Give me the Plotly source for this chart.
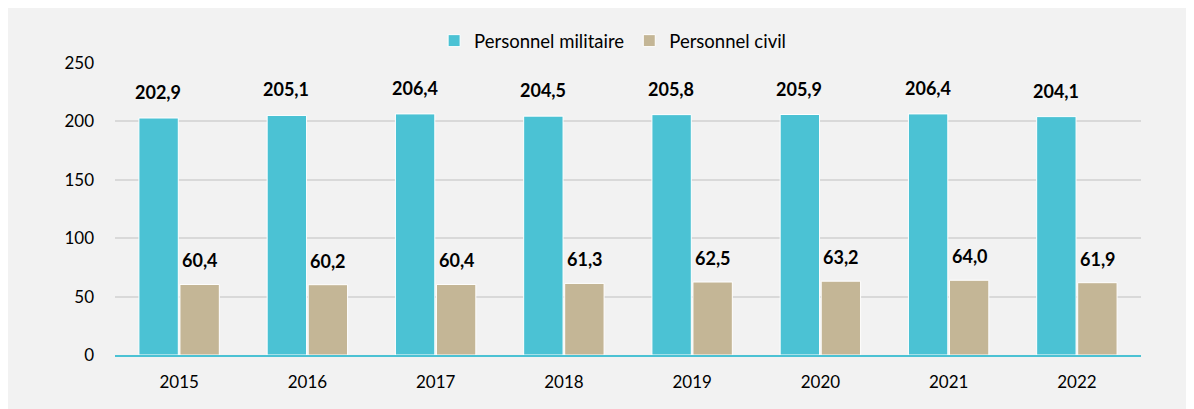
import plotly.graph_objects as go

years = ["2015", "2016", "2017", "2018", "2019", "2020", "2021", "2022"]
militaire = [202.9, 205.1, 206.4, 204.5, 205.8, 205.9, 206.4, 204.1]
civil = [60.4, 60.2, 60.4, 61.3, 62.5, 63.2, 64.0, 61.9]
y_ticks = [0, 50, 100, 150, 200, 250]

C_MIL = "#4BC2D4"
C_CIV = "#C4B696"
BG = "#F2F2F2"
FONT = "Lato, 'Open Sans', sans-serif"

def fr(v):
    return f"{v:.1f}".replace(".", ",")

fig = go.Figure()
fig.add_trace(go.Bar(name="Personnel militaire", x=years, y=militaire,
                     marker=dict(color=C_MIL, line=dict(color="white", width=1))))
fig.add_trace(go.Bar(name="Personnel civil", x=years, y=civil,
                     marker=dict(color=C_CIV, line=dict(color="white", width=1))))

annotations = []
for i, yr in enumerate(years):
    # on a category axis, the category index i is the position of year yr
    annotations.append(dict(x=i, y=militaire[i], text=fr(militaire[i]), xref="x", yref="y",
                            showarrow=False, yanchor="bottom", yshift=13, xshift=-21,
                            font=dict(family=FONT, size=18, color="black", weight="bold")))
    annotations.append(dict(x=i, y=civil[i], text=fr(civil[i]), xref="x", yref="y",
                            showarrow=False, yanchor="bottom", yshift=11, xshift=21,
                            font=dict(family=FONT, size=18, color="black", weight="bold")))

fig.update_layout(
    width=1194, height=409,
    margin=dict(l=107, r=61, t=55, b=62),
    paper_bgcolor=BG, plot_bgcolor=BG,
    barmode="group", bargap=0.36, bargroupgap=0.04,
    font=dict(family=FONT, size=17, color="black"),
    legend=dict(orientation="h", x=0.485, xanchor="center", y=1.075, yanchor="middle",
                font=dict(size=18.5), bgcolor="rgba(0,0,0,0)", itemwidth=30, traceorder="normal"),
    annotations=annotations,
    showlegend=True,
)
fig.update_xaxes(type="category", range=[-0.5, len(years) - 0.5], showline=True,
                 linecolor=C_MIL, linewidth=2, ticks="",
                 ticklabelstandoff=11, tickfont=dict(size=17))
fig.update_yaxes(range=[0, 250], tickvals=y_ticks, showgrid=True, gridcolor="#D9D9D9",
                 gridwidth=1.5, zeroline=False, showline=False, ticks="",
                 ticklabelstandoff=20, tickfont=dict(size=17))

fig.write_html("out.html")
